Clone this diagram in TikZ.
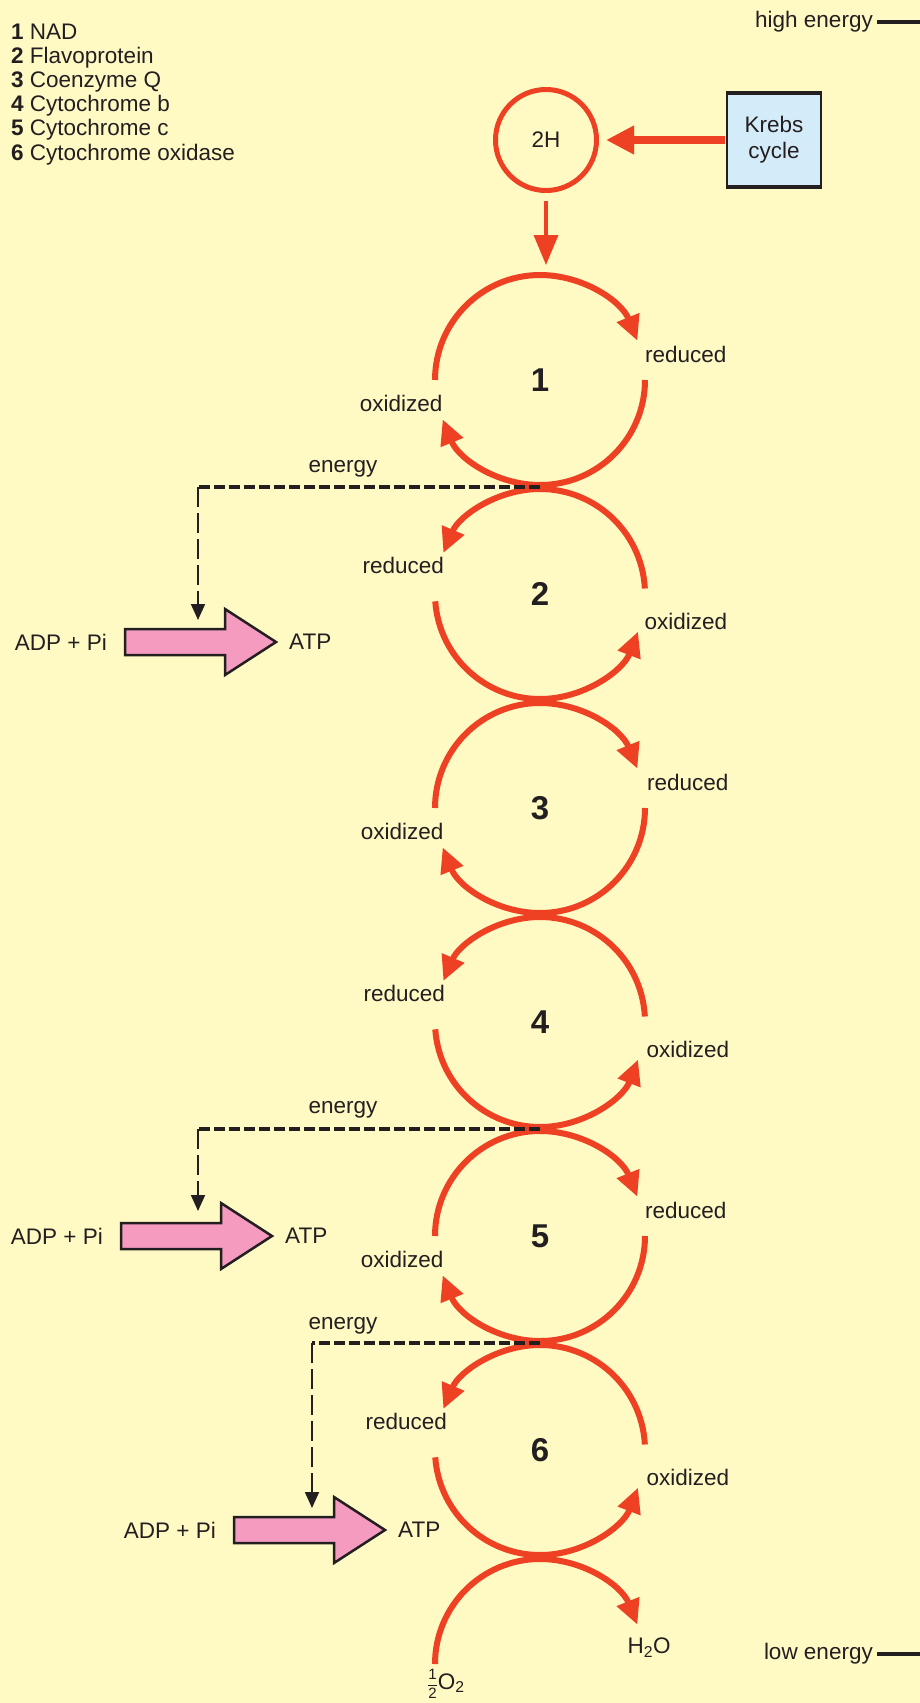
\documentclass[tikz,border=0pt]{standalone}
\usepackage{amsmath}
\usepackage{fontspec}
\setmainfont{Liberation Sans}
\usetikzlibrary{positioning,arrows.meta}
\definecolor{EtcBack}{HTML}{FFF9C4}
\definecolor{EtcRed}{HTML}{EE4123}
\definecolor{EtcPink}{HTML}{F49BBF}
\definecolor{EtcBlue}{HTML}{D4ECFA}
\definecolor{EtcInk}{HTML}{231F20}

\begin{document}
\begin{tikzpicture}[x=1pt,y=-1pt,font=\fontsize{22.5}{26}\selectfont,>=latex]
\tikzset{lbl/.style={inner sep=0pt,text=EtcInk},
         num/.style={circle,minimum size=210pt,inner sep=0pt,outer sep=0pt,text=EtcInk,font=\fontsize{33}{33}\selectfont\bfseries},
         redarc/.style={draw=EtcRed,line width=6pt,-{Triangle[length=25pt,width=23pt]}},
         endash/.style={draw=EtcInk,line width=3.5pt,dash pattern=on 11pt off 4pt},
         endown/.style={draw=EtcInk,line width=1.8pt,dash pattern=on 20pt off 6pt,-{Triangle[length=16pt,width=14pt]}},
         atpbody/.style={fill=EtcPink,draw=EtcInk,line width=2.5pt},
         enbar/.style={draw=EtcInk,line width=3.5pt}}
\useasboundingbox (0,0) rectangle (920,1703);
\fill[EtcBack] (0,0) rectangle (920,1703);
% legend
\foreach \k/\txt in {1/NAD,2/Flavoprotein,3/Coenzyme Q,4/Cytochrome b,5/Cytochrome c,6/Cytochrome oxidase}
  \node[lbl,anchor=base west] (leg\k) at (11,{39+24.2*(\k-1)}) {\textbf{\k}\ \txt};
\node[lbl,anchor=east] (hi) at (873,22) {high energy};
\node[lbl,anchor=east] (lo) at (873,1654) {low energy};
\coordinate (edge) at (920,0);
\draw[enbar] ([xshift=4pt]hi.east) -- (hi.east -| edge);
\draw[enbar] ([xshift=4pt]lo.east) -- (lo.east -| edge);
% carriers
\node[num] (n1) at (540,380) {1};
\node[num] (n2) at (540,594) {2};
\node[num] (n3) at (540,808) {3};
\node[num] (n4) at (540,1022) {4};
\node[num] (n5) at (540,1236) {5};
\node[num] (n6) at (540,1450) {6};
\node[num] (n7) at (540,1664) {};
% entry of hydrogen
\node[draw=EtcInk,line width=1.5pt,fill=EtcBlue,minimum width=94pt,minimum height=93pt,align=center,text=EtcInk] (krebs) at (774,140) {Krebs\\cycle};
\draw[line width=4pt,draw=EtcInk] (krebs.north west) -- (krebs.north east);
\draw[line width=4pt,draw=EtcInk] (krebs.south west) -- (krebs.south east);
\node[circle,draw=EtcRed,line width=5pt,minimum size=101pt,text=EtcInk] (h2) at (546,140) {2H};
\draw[draw=EtcRed,line width=8pt,-{Triangle[length=28pt,width=27pt]},shorten <=1pt,shorten >=7pt] (krebs.west) -- (h2.east);
\draw[draw=EtcRed,line width=3.5pt,-{Triangle[length=30pt,width=24pt]},shorten <=8pt,shorten >=10pt] (h2.south) -- (h2.south |- n1.north);
\foreach \c in {n1,n3,n5}{
  \draw[redarc] (\c.180) arc[start angle=180,end angle=22,radius=105pt];
  \draw[redarc] (\c.0) arc[start angle=0,end angle=-158,radius=105pt];}
\foreach \c in {n2,n4,n6}{
  \draw[redarc] (\c.3) arc[start angle=3,end angle=157,radius=105pt];
  \draw[redarc] (\c.184) arc[start angle=184,end angle=339,radius=105pt];}
\draw[redarc] (n7.180) arc[start angle=180,end angle=22,radius=105pt];
\node[lbl,anchor=west] (red1) at ([xshift=3pt]n1.14) {reduced};
\node[lbl,anchor=east] (oxi1) at ([xshift=5pt]n1.193) {oxidized};
\node[lbl,anchor=east] (red2) at ([xshift=5pt]n2.164) {reduced};
\node[lbl,anchor=west] (oxi2) at ([xshift=3pt]n2.345) {oxidized};
\node[lbl,anchor=west] (red3) at ([xshift=5pt]n3.14) {reduced};
\node[lbl,anchor=east] (oxi3) at ([xshift=6pt]n3.193) {oxidized};
\node[lbl,anchor=east] (red4) at ([xshift=6pt]n4.164) {reduced};
\node[lbl,anchor=west] (oxi4) at ([xshift=5pt]n4.345) {oxidized};
\node[lbl,anchor=west] (red5) at ([xshift=3pt]n5.14) {reduced};
\node[lbl,anchor=east] (oxi5) at ([xshift=6pt]n5.193) {oxidized};
\node[lbl,anchor=east] (red6) at ([xshift=8pt]n6.164) {reduced};
\node[lbl,anchor=west] (oxi6) at ([xshift=5pt]n6.345) {oxidized};
\node[lbl] (water) at (649,1648) {H\textsubscript{2}O};
\node[lbl] (oxy) at (446,1684) {{\fontsize{15}{15}\selectfont$\dfrac{\text{1}}{\text{2}}$}O\textsubscript{2}};
% energy to ATP
\coordinate (k1) at (198,487); \coordinate (t1) at (198,620); \coordinate (p1) at (125,642);
\coordinate (k2) at (198,1129); \coordinate (t2) at (198,1211); \coordinate (p2) at (121,1236);
\coordinate (k3) at (312,1343); \coordinate (t3) at (312,1508); \coordinate (p3) at (234,1530);
\foreach \i in {1,2,3}{
  \draw[atpbody] (p\i) ++(0,-13) -- ++(100,0) -- ++(0,-20) -- ++(51,33) -- ++(-51,33) -- ++(0,-20) -- ++(-100,0) -- cycle;
  \node[lbl,anchor=east] (adp\i) at ([xshift=-18pt]p\i) {ADP + Pi};
  \node[lbl,anchor=west] (atp\i) at ([xshift=164pt]p\i) {ATP};
  \draw[endown] (k\i) -- (t\i);}
\draw[endash] (n1.south |- k1) -- (k1);
\draw[endash] (n4.south |- k2) -- (k2);
\draw[endash] (n5.south |- k3) -- (k3);
\node[lbl] (en1) at (343,469) {energy};
\node[lbl] (en2) at (343,1110) {energy};
\node[lbl] (en3) at (343,1326) {energy};
\end{tikzpicture}
\end{document}
